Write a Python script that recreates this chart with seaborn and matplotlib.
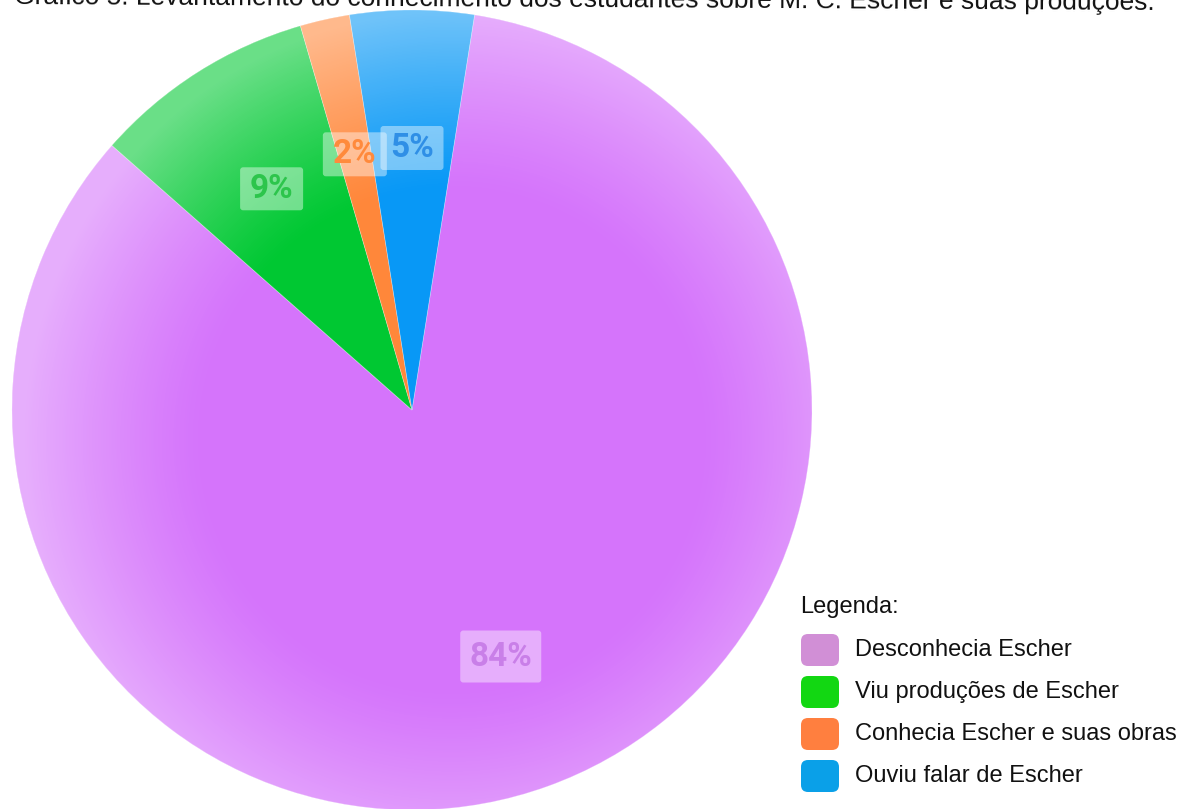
import numpy as np
import matplotlib
matplotlib.use("Agg")
import matplotlib.pyplot as plt
import seaborn as sns
from matplotlib.patches import FancyBboxPatch, Circle

# Survey answers and their shares (%)
categories = ["Desconhecia Escher", "Viu produções de Escher",
              "Conhecia Escher e suas obras", "Ouviu falar de Escher"]
shares = [84, 9, 2, 5]
slice_colors = ["#d574fb", "#00c832", "#ff873a", "#0898f6"]
legend_colors = ["#d18fd6", "#12d712", "#ff7f3f", "#0aa0e8"]
label_colors = ["#c97fe8", "#2dc54c", "#ff8a3c", "#2f8fe6"]
title = ("Gráfico 5: Levantamento do conhecimento dos estudantes sobre "
         "M. C. Escher e suas produções.")
legend_title = "Legenda:"

sns.set_theme(style="white")
plt.rcParams["font.family"] = ["Liberation Sans", "DejaVu Sans"]

W, H = 1183, 809
fig = plt.figure(figsize=(W / 100, H / 100), dpi=100)
fig.patch.set_facecolor("white")
ax = fig.add_axes([0, 0, 1, 1])

cx, cy, R = 412, H - 410, 400

wedges, texts, autotexts = ax.pie(
    shares, colors=slice_colors, startangle=81, counterclock=False,
    center=(cx, cy), radius=R,
    autopct=lambda p: f"{p:.0f}%", pctdistance=0.655,
    wedgeprops=dict(linewidth=0.5, edgecolor=(1, 1, 1, 0.35)),
    textprops=dict(family=["Roboto", "DejaVu Sans"], fontweight="bold",
                   fontsize=24),
    frame=False)

ax.set_xlim(0, W)
ax.set_ylim(0, H)
ax.set_aspect("equal")
ax.axis("off")

# Soft shading: slices fade toward white near the rim
n = 800
gx = np.linspace(cx - R, cx + R, n)
gy = np.linspace(cy - R, cy + R, n)
X, Y = np.meshgrid(gx, gy)
d = np.hypot(X - (cx + 40), Y - (cy - 30)) / R
a = np.clip((d - 0.62) / 0.45, 0, 1) ** 1.2 * 0.42
rgba = np.ones((n, n, 4))
rgba[..., 3] = a
im = ax.imshow(rgba, extent=(cx - R, cx + R, cy - R, cy + R), origin="lower",
               zorder=2, interpolation="bilinear")
clip = Circle((cx, cy), R, transform=ax.transData)
im.set_clip_path(clip)

# Percentage labels on translucent boxes
box_sizes = [(81, 52), (63, 43), (64, 44), (63, 44)]
for t, col, (bw, bh) in zip(autotexts, label_colors, box_sizes):
    t.set_color(col)
    t.set_zorder(5)
    x, y = t.get_position()
    box = FancyBboxPatch((x - bw / 2, y - bh / 2), bw, bh,
                         boxstyle="round,pad=0,rounding_size=3",
                         fc="white", alpha=0.42, ec="none", zorder=4)
    ax.add_patch(box)

# Title (runs off the top edge, very slightly tilted)
ax.text(14, H - 4, title, fontsize=19, color="#111111", va="baseline",
        ha="left", rotation=-0.3, rotation_mode="anchor", clip_on=False)

# Legend
ax.text(800, H - 607, legend_title, fontsize=17, color="#111111",
        va="center", ha="left")
row_y = [650, 692, 734, 776]
for name, col, ry in zip(categories, legend_colors, row_y):
    sq = FancyBboxPatch((801, H - ry - 16), 38, 32,
                        boxstyle="round,pad=0,rounding_size=7",
                        fc=col, ec="none", zorder=3)
    ax.add_patch(sq)
    ax.text(855, H - ry, name, fontsize=17, color="#111111",
            va="center", ha="left")

fig.savefig("out.png", dpi=100, facecolor="white")
